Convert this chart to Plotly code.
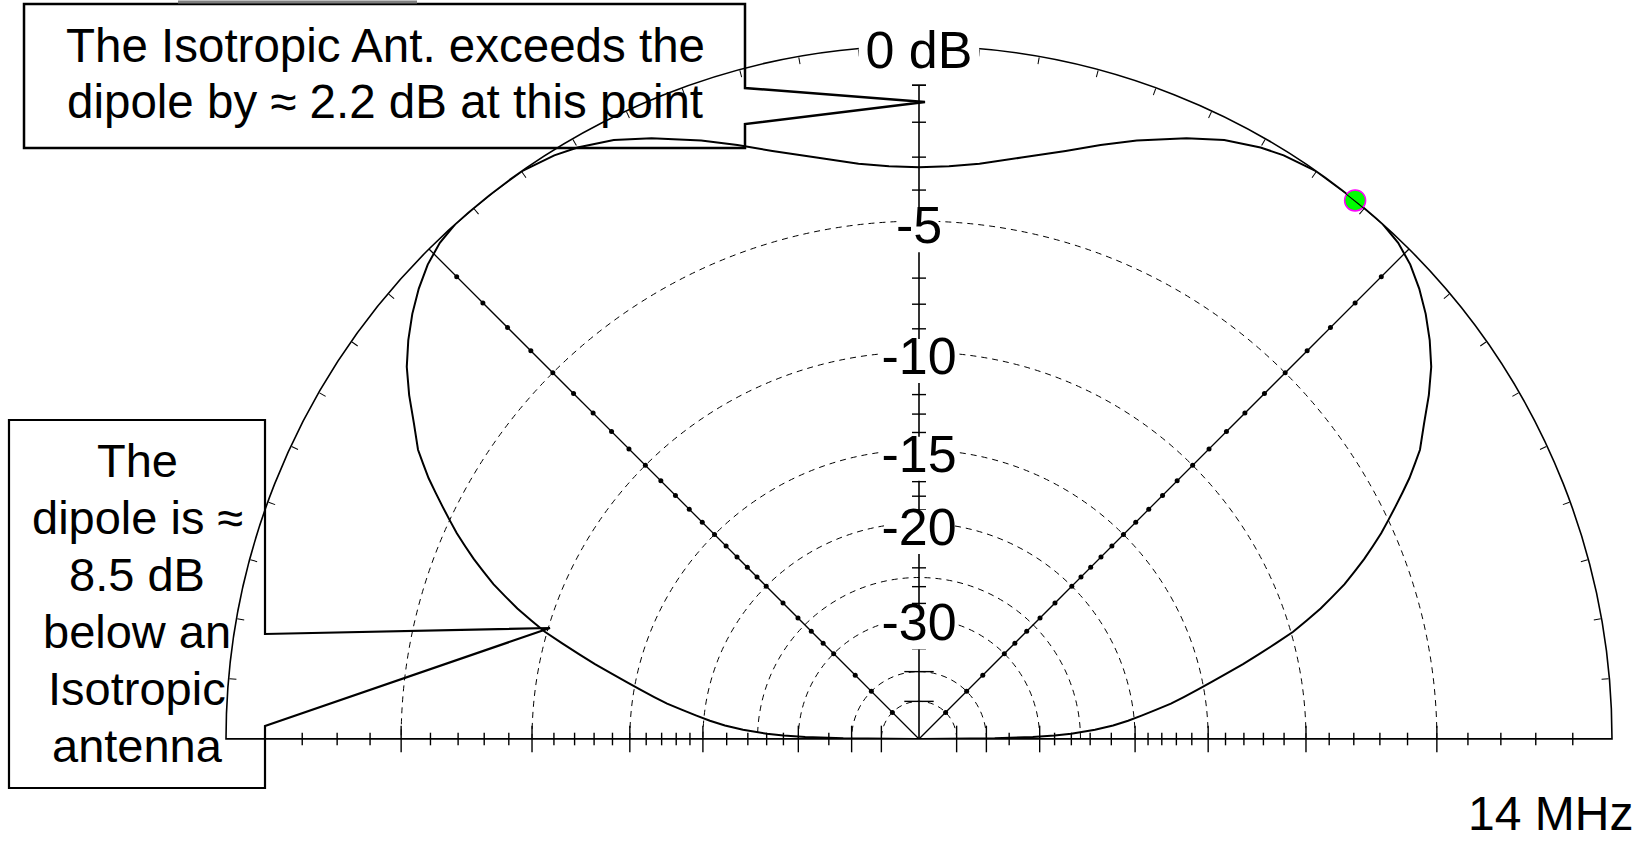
import plotly.graph_objects as go

W, H = 1641, 842

# ---------------- data ----------------
ELEV_DEG = [0, 0.5, 1, 1.5, 2, 3, 4, 5, 6, 7, 8, 9, 10, 11, 12, 13, 14, 15, 16, 17, 18, 19, 20,
            21, 22, 23, 24, 25, 26, 27, 28, 29, 30, 32, 34, 36, 38, 40, 42, 44, 46, 48, 50,
            52, 55, 58, 60, 63, 66, 70, 73, 76, 80, 84, 87, 90,
            93, 96, 100, 104, 107, 110, 114, 117, 120, 122, 125, 128, 130, 132, 134, 136, 138,
            140, 142, 144, 146, 148, 150, 151, 152, 153, 154, 155, 156, 157, 158, 159, 160,
            161, 162, 163, 164, 165, 166, 167, 168, 169, 170, 171, 172, 173, 174, 175, 176, 177,
            178, 178.5, 179, 179.5, 180]
GAIN_DB = [-99, -38, -31, -28, -26, -23.5, -21.8, -20.5, -19.4, -18.3, -17.2, -16.3, -15.4,
           -14.5, -13.6, -12.6, -11.7, -10.8, -9.9, -9.2, -8.5, -7.9, -7.3, -6.8, -6.3, -5.85,
           -5.4, -5.0, -4.6, -4.2, -3.8, -3.45, -3.1, -2.6, -2.05, -1.55, -1.15, -0.8, -0.5,
           -0.25, -0.08, 0.0, 0.0, 0.0, 0.0, -0.12, -0.25, -0.52, -0.9, -1.45, -1.88, -2.3,
           -2.75, -3.1, -3.25, -3.3,
           -3.25, -3.1, -2.75, -2.3, -1.88, -1.45, -0.9, -0.52, -0.25, -0.12, 0.0, 0.0, 0.0,
           0.0, -0.08, -0.25, -0.5, -0.8, -1.15, -1.55, -2.05, -2.6, -3.1, -3.45, -3.8, -4.2,
           -4.6, -5.0, -5.4, -5.85, -6.3, -6.8, -7.3, -7.9, -8.5, -9.2, -9.9, -10.8, -11.7,
           -12.6, -13.6, -14.5, -15.4, -16.3, -17.2, -18.3, -19.4, -20.5, -21.8, -23.5,
           -26, -28, -31, -38, -99]
assert len(ELEV_DEG) == len(GAIN_DB)

RING_DB = [-5, -10, -15, -20, -25, -30, -40, -50]
LABEL_DB = [0, -5, -10, -15, -20, -30]
LABEL_TEXT = ["0 dB", "-5", "-10", "-15", "-20", "-30"]
LABEL_GAP_W = [130, 72, 100, 100, 94, 96]   # total width of the white gap behind each label
LABEL_GAP_H = 44
MINOR_TICK_DB = [-1, -2, -3, -4, -6, -7, -8, -9, -11, -12, -13, -14,
                 -16, -17, -18, -19, -22, -24, -26, -28, -35]
MAJOR_TICK_DB = [-5, -10, -15, -20, -30, -40, -50]
ANGLE_TICKS = [a for a in range(5, 180, 5) if a not in (45, 135)]
DIAG_ELEV = [45, 135]
MARK_ELEV = [51]
MARK_DB = [0.0]
AXIS_TOP_DB = -1

BOX1_LINES = ["The Isotropic Ant. exceeds the", "dipole by \u2248 2.2 dB at this point"]
BOX2_LINES = ["The", "dipole is \u2248", "8.5 dB", "below an", "Isotropic", "antenna"]
FREQ_TEXT = "14 MHz"

FONT = "Liberation Sans, Arial, sans-serif"
LABEL_DROP = 9 / 693.0


def arrl(db):
    """ARRL log scale: radius relative to outer ring (0 dB)."""
    return 0.89 ** (-db / 2.0)


def px(x, y):
    return x / W, 1 - y / H


fig = go.Figure()
common = dict(showlegend=False, hoverinfo="skip", cliponaxis=False)

# baseline (0 deg - 180 deg)
fig.add_trace(go.Scatterpolar(theta=[0, 0, 180], r=[1, 0, 1], mode="lines",
                              line=dict(color="black", width=2), **common))
# vertical axis
fig.add_trace(go.Scatterpolar(theta=[90, 90], r=[0, arrl(AXIS_TOP_DB)], mode="lines",
                              line=dict(color="black", width=1.6), **common))
# diagonals
for a in DIAG_ELEV:
    fig.add_trace(go.Scatterpolar(theta=[a, a], r=[0, 1], mode="lines",
                                  line=dict(color="black", width=1.3), **common))

# ticks on vertical axis
fig.add_trace(go.Scatterpolar(theta=[90] * (len(MINOR_TICK_DB) + 1),
                              r=[arrl(d) for d in MINOR_TICK_DB] + [arrl(AXIS_TOP_DB)],
                              mode="markers",
                              marker=dict(symbol="line-ew", size=10, color="black",
                                          line=dict(color="black", width=1.4)), **common))
fig.add_trace(go.Scatterpolar(theta=[90] * len(MAJOR_TICK_DB), r=[arrl(d) for d in MAJOR_TICK_DB],
                              mode="markers",
                              marker=dict(symbol="line-ew", size=21, color="black",
                                          line=dict(color="black", width=1.4)), **common))
# ticks on baseline
for a in (0, 180):
    fig.add_trace(go.Scatterpolar(theta=[a] * len(MINOR_TICK_DB), r=[arrl(d) for d in MINOR_TICK_DB],
                                  mode="markers",
                                  marker=dict(symbol="line-ns", size=9, color="black",
                                              line=dict(color="black", width=1.4)), **common))
    fig.add_trace(go.Scatterpolar(theta=[a] * len(MAJOR_TICK_DB), r=[arrl(d) for d in MAJOR_TICK_DB],
                                  mode="markers",
                                  marker=dict(symbol="line-ns", size=19, color="black",
                                              line=dict(color="black", width=1.4)), **common))
# dots on diagonals
for a in DIAG_ELEV:
    dbs = MINOR_TICK_DB + MAJOR_TICK_DB
    fig.add_trace(go.Scatterpolar(theta=[a] * len(dbs), r=[arrl(d) for d in dbs],
                                  mode="markers",
                                  marker=dict(symbol="circle", size=5, color="black"), **common))

# label backgrounds (line-ew markers get square caps, so length = size + line width)
for d, w in zip(LABEL_DB, LABEL_GAP_W):
    fig.add_trace(go.Scatterpolar(theta=[90], r=[arrl(d) - LABEL_DROP], mode="markers",
                                  marker=dict(symbol="line-ew", size=max(w - LABEL_GAP_H, 1),
                                              color="white",
                                              line=dict(color="white", width=LABEL_GAP_H)),
                                  **common))
# labels
fig.add_trace(go.Scatterpolar(theta=[90] * len(LABEL_DB), r=[arrl(d) - LABEL_DROP for d in LABEL_DB],
                              mode="text", text=LABEL_TEXT, textposition="middle center",
                              textfont=dict(family=FONT, size=52, color="black"), **common))

# cursor marker
fig.add_trace(go.Scatterpolar(theta=MARK_ELEV, r=[arrl(d) for d in MARK_DB], mode="markers",
                              marker=dict(symbol="circle", size=21, color="#00ff00",
                                          line=dict(color="#ff00ff", width=1.5)), **common))
# pattern
fig.add_trace(go.Scatterpolar(theta=ELEV_DEG, r=[arrl(d) for d in GAIN_DB], mode="lines",
                              line=dict(color="black", width=2), **common))

# ---------------- layout ----------------
cx, cy, R = 919, 739, 693
dom_x = [(cx - R) / W, (cx + R) / W]
dom_y = [(H - cy) / H, (H - cy + R) / H]

shapes = []


def path(points):
    s = ""
    for i, (x, y) in enumerate(points):
        X, Y = px(x, y)
        s += ("M" if i == 0 else "L") + f"{X:.5f},{Y:.5f} "
    return s + "Z"


shapes.append(dict(type="path", xref="paper", yref="paper",
                   path=path([(24, 4), (745, 4), (745, 88), (925, 102), (745, 124),
                              (745, 148), (24, 148)]),
                   line=dict(color="black", width=2.5), fillcolor="rgba(0,0,0,0)"))
shapes.append(dict(type="path", xref="paper", yref="paper",
                   path=path([(9, 420), (265, 420), (265, 634), (550, 628), (265, 726),
                              (265, 788), (9, 788)]),
                   line=dict(color="black", width=2.2), fillcolor="rgba(0,0,0,0)"))
gx0, gy0 = px(178, 2)
gx1, gy1 = px(417, 2)
shapes.append(dict(type="line", xref="paper", yref="paper", x0=gx0, y0=gy0, x1=gx1, y1=gy1,
                   line=dict(color="#808080", width=3)))

annotations = []
for i, t in enumerate(BOX1_LINES):
    X, Y = px(385, 45.5 + 56 * i)
    annotations.append(dict(text=t, x=X, y=Y, xref="paper", yref="paper", showarrow=False,
                            xanchor="center", yanchor="middle",
                            font=dict(family=FONT, size=47.5, color="black")))
for i, t in enumerate(BOX2_LINES):
    X, Y = px(137, 460.5 + 57 * i)
    annotations.append(dict(text=t, x=X, y=Y, xref="paper", yref="paper", showarrow=False,
                            xanchor="center", yanchor="middle",
                            font=dict(family=FONT, size=47, color="black")))
X, Y = px(1550, 813)
annotations.append(dict(text=FREQ_TEXT, x=X, y=Y, xref="paper", yref="paper", showarrow=False,
                        xanchor="center", yanchor="middle",
                        font=dict(family=FONT, size=48, color="black")))

fig.update_layout(
    width=W, height=H, autosize=False,
    margin=dict(l=0, r=0, t=0, b=0, pad=0),
    paper_bgcolor="white", plot_bgcolor="white",
    showlegend=False,
    polar=dict(
        domain=dict(x=dom_x, y=dom_y),
        sector=[0, 180],
        bgcolor="white",
        hole=0,
        radialaxis=dict(range=[0, 1], tickmode="array", tickvals=[arrl(d) for d in RING_DB],
                        showticklabels=False, ticks="", showline=False,
                        showgrid=True, gridcolor="black", gridwidth=1.4, griddash="6px,5px",
                        angle=90, layer="below traces"),
        angularaxis=dict(rotation=0, direction="counterclockwise", thetaunit="degrees",
                         tickmode="array", tickvals=ANGLE_TICKS, ticks="inside", ticklen=7,
                         tickwidth=1.3, tickcolor="black", showticklabels=False,
                         showgrid=False, showline=True, linecolor="black", linewidth=1.6,
                         layer="below traces"),
    ),
    shapes=shapes,
    annotations=annotations,
)

fig.write_html("out.html", config={"displayModeBar": False},
               post_script="document.body.style.margin='0px';document.body.style.overflow='hidden';")
